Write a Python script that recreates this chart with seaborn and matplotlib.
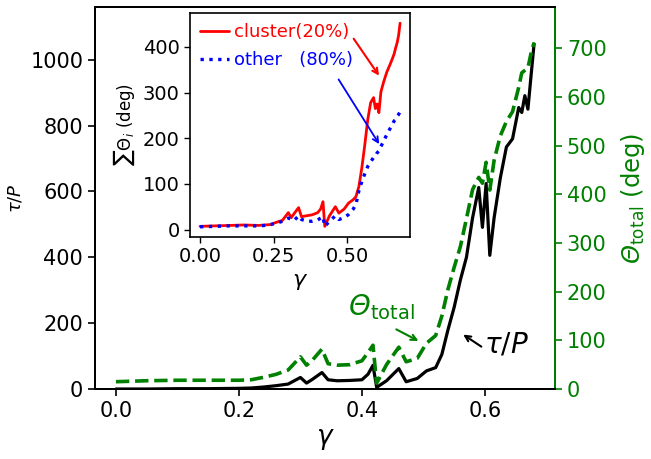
import matplotlib
matplotlib.use("Agg")
import matplotlib.pyplot as plt
import seaborn as sns

# gamma grid shared by all curves
gamma = [0.0, 0.05, 0.10, 0.15, 0.20, 0.22, 0.24, 0.26, 0.28, 0.30, 0.31, 0.32,
         0.335, 0.345, 0.36, 0.38, 0.40, 0.41, 0.418, 0.424, 0.44, 0.46, 0.472,
         0.49, 0.505, 0.52, 0.53, 0.54, 0.55, 0.56, 0.57, 0.58, 0.59, 0.596,
         0.602, 0.608, 0.615, 0.625, 0.635, 0.645, 0.655, 0.66, 0.665, 0.67,
         0.675, 0.68]

# tau/P (left axis)
tau_P = [0, 0, 1, 1, 2, 3, 6, 10, 15, 35, 18, 30,
         50, 28, 25, 26, 28, 45, 72, 5, 25, 62, 22,
         32, 55, 65, 105, 180, 248, 330, 400, 520, 612, 491,
         624, 406, 520, 640, 735, 760, 855, 840, 891, 850,
         950, 1048]

# Theta_total in deg (right axis)
theta_total = [15, 17, 18, 18, 18, 19, 24, 30, 39, 66, 49, 60,
               82, 52, 49, 50, 58, 75, 90, 12, 50, 86, 56,
               63, 94, 110, 150, 205, 250, 292, 350, 410, 435, 423,
               466, 409, 470, 520, 550, 570, 620, 650, 655, 660,
               690, 712]

# inset: sum of Theta_i for cluster and other
theta_cluster = [7, 8, 9, 10, 9, 10, 11, 16, 20, 37, 26, 35,
                 48, 28, 30, 32, 37, 45, 61, 7, 30, 50, 36,
                 45, 58, 65, 72, 94, 135, 185, 240, 278, 289, 265,
                 275, 256, 302, 325, 345, 360, 376, 385, 398, 409,
                 425, 452]
theta_other = [6, 7, 8, 8, 8, 9, 11, 14, 18, 25, 23, 20,
               30, 22, 19, 18, 21, 25, 28, 7, 18, 30, 22,
               26, 33, 44, 55, 85, 105, 122, 138, 148, 158, 160,
               168, 172, 182, 195, 208, 220, 232, 238, 241, 248,
               252, 258]

sns.set_style("ticks")
plt.rcParams['font.family'] = ['DejaVu Sans']
plt.rcParams['mathtext.fontset'] = 'dejavusans'
# custom math font only used for the italic capital Theta labels
plt.rcParams['mathtext.rm'] = 'DejaVu Sans'
plt.rcParams['mathtext.it'] = 'DejaVu Sans:italic'
plt.rcParams['mathtext.sf'] = 'DejaVu Sans:italic'
for k in ['text.color', 'axes.labelcolor', 'xtick.color', 'ytick.color',
          'axes.edgecolor']:
    plt.rcParams[k] = 'black'

green = 'green'
theta_lbl = r'$\mathsf{\Theta}_{\rm total}$'

fig = plt.figure(figsize=(6.51, 4.59), dpi=100)
ax = fig.add_axes([0.146, 0.1525, 0.7065, 0.832])

sns.lineplot(x=gamma, y=tau_P, ax=ax, color='black', lw=2.3)
ax.set_ylim(0, 1160)
ax.set_xticks([0.0, 0.2, 0.4, 0.6])
ax.set_yticks([0, 200, 400, 600, 800, 1000])
ax.tick_params(labelsize=15, width=1.2, length=5)
ax.set_xlabel(r'$\gamma$', fontsize=19)
ax.set_ylabel(r'$\tau/P$', fontsize=13)
for s in ax.spines.values():
    s.set_linewidth(1.4)

ax2 = ax.twinx()
sns.lineplot(x=gamma, y=theta_total, ax=ax2, color=green, lw=2.6, linestyle='--')
ax2.set_ylim(0, 785)
ax2.set_yticks([0, 100, 200, 300, 400, 500, 600, 700])
ax2.tick_params(labelsize=15, width=1.2, length=5, colors=green)
ax2.set_ylabel(theta_lbl + ' (deg)', fontsize=17.5, color=green,
               labelpad=9, math_fontfamily='custom')
for s in ax2.spines.values():
    s.set_linewidth(1.4)
ax2.spines['right'].set_color(green)

# annotations on the main plot (left-axis data units)
ax.text(0.377, 224, theta_lbl, fontsize=20, color=green,
        ha='left', va='baseline', math_fontfamily='custom')
ax.annotate('', xy=(0.496, 142), xytext=(0.452, 185),
            arrowprops=dict(arrowstyle='->', color=green, lw=1.5))
ax.text(0.598, 112, r'$\tau/P$', fontsize=20, color='black',
        ha='left', va='baseline')
ax.annotate('', xy=(0.561, 170), xytext=(0.598, 124),
            arrowprops=dict(arrowstyle='->', color='black', lw=1.5))

# inset
axin = fig.add_axes([0.2919, 0.4837, 0.338, 0.488])
sns.lineplot(x=gamma, y=theta_cluster, ax=axin, color='red', lw=2,
             label='cluster(20%)')
sns.lineplot(x=gamma, y=theta_other, ax=axin, color='blue', lw=2.4,
             linestyle=':', label='other   (80%)')
axin.set_xticks([0.0, 0.25, 0.5])
axin.set_yticks([0, 100, 200, 300, 400])
axin.tick_params(labelsize=14, width=1.0, length=4)
axin.set_xlabel(r'$\gamma$', fontsize=16)
axin.set_ylabel(r'$\sum\Theta_i$ (deg)', fontsize=12)
for s in axin.spines.values():
    s.set_linewidth(1.2)
axin.legend(loc='upper left', frameon=False, fontsize=13,
            labelcolor='linecolor', handlelength=1.6, handletextpad=0.3,
            borderaxespad=0.15, labelspacing=0.55)
axin.annotate('', xy=(0.614, 332), xytext=(0.517, 423),
              arrowprops=dict(arrowstyle='->', color='red', lw=1.5))
axin.annotate('', xy=(0.614, 182), xytext=(0.466, 334),
              arrowprops=dict(arrowstyle='->', color='blue', lw=1.3))

fig.savefig('out.png', dpi=100)
